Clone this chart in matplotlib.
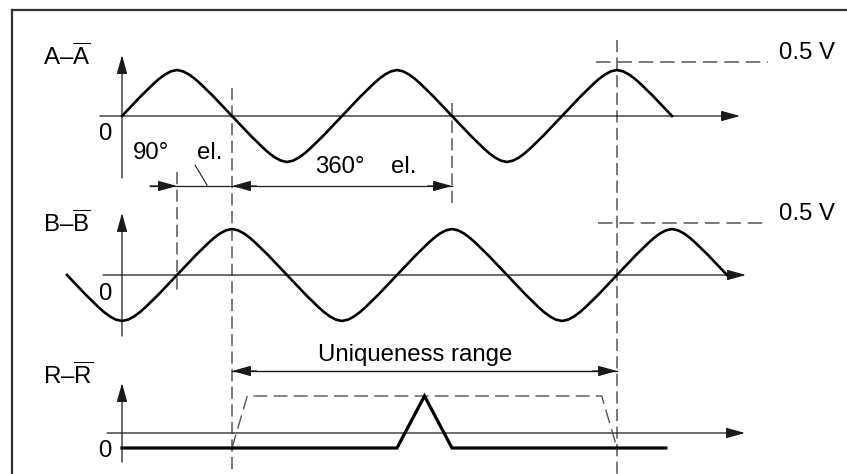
import matplotlib
matplotlib.use('Agg')
import matplotlib.pyplot as plt

plt.rcParams['font.family'] = ['Liberation Sans', 'DejaVu Sans']
plt.rcParams['mathtext.fontset'] = 'custom'
plt.rcParams['mathtext.rm'] = 'Liberation Sans'
plt.rcParams['mathtext.it'] = 'Liberation Sans:italic'

# ---------------- data ----------------
# one electrical period of the incremental signal (normalised), 10° el. steps
cycle_step = 10
cycle_val = [0.0, 0.14, 0.28, 0.42, 0.55, 0.68, 0.80, 0.90, 0.97,
             1.0, 0.97, 0.90, 0.80, 0.68, 0.55, 0.42, 0.28, 0.14,
             0.0, -0.14, -0.28, -0.42, -0.55, -0.68, -0.80, -0.90, -0.97,
             -1.0, -0.97, -0.90, -0.80, -0.68, -0.55, -0.42, -0.28, -0.14]
signal_labels = ['A', 'B', 'R']
signal_phase = [0, 90]                 # ° el. (B shifted by 90° el.)
signal_start = [0, -90]                # ° el.
signal_end = [900, 990]                # ° el.
ref_deg = [0, 450, 495, 540, 890]      # reference mark R-R̄
ref_val = [0, 0, 1, 0, 0]
uniq_deg = [180, 205, 785, 810]        # uniqueness window (dashed)
uniq_val = [0, 1, 1, 0]
period_deg = 360
quarter_deg = 90
uniq_range = (180, 810)
level_text = '0.5 V'

# ---------------- layout ----------------
W, H = 847, 474
PX0, PXPERIOD = 122, 220          # pixel position of 0°, pixels per 360°
def px2deg(p):
    return (p - PX0) * period_deg / PXPERIOD

fig = plt.figure(figsize=(W / 100, H / 100), dpi=100)
ax = fig.add_axes([0, 0, 1, 1])
ax.set_xlim(px2deg(0), px2deg(W))
ax.set_ylim(H, 0)
ax.axis('off')

base_y = [116, 275, 448]
amp = [46, 46, 52]
axis_y = [116, 275, 433]
axis_x0 = [px2deg(100), px2deg(103), px2deg(107)]
axis_x1 = [px2deg(740), px2deg(746), px2deg(745)]
yaxis_bot = [178, 336, 462]
yaxis_top = [55, 213, 383]

FS = 17.3
AX_C = '#1a1a1a'
DASH_C = '#555555'

def arrow(x0, y0, x1, y1, color=AX_C, lw=0.9):
    ax.annotate('', xy=(x1, y1), xytext=(x0, y0),
                arrowprops=dict(arrowstyle='-|>,head_length=1.15,head_width=0.32',
                                lw=lw, color=color, shrinkA=0, shrinkB=0,
                                mutation_scale=10))

# frame (left and top edges)
fx = px2deg(12)
ax.plot([fx, fx], [H + 5, 10], color='#333333', lw=1.6, solid_capstyle='projecting')
ax.plot([fx, px2deg(W + 5)], [10, 10], color='#333333', lw=1.6, solid_capstyle='projecting')

# axes of the three channels
for i in range(3):
    arrow(axis_x0[i], axis_y[i], axis_x1[i], axis_y[i])
    arrow(0, yaxis_bot[i], 0, yaxis_top[i])

# incremental signals A and B
for i in range(2):
    xs, ys = [], []
    for d in range(signal_start[i], signal_end[i] + 1, cycle_step):
        idx = ((d - signal_phase[i]) % period_deg) // cycle_step
        xs.append(d)
        ys.append(base_y[i] - amp[i] * cycle_val[idx])
    ax.plot(xs, ys, color='black', lw=1.9, solid_joinstyle='round', zorder=5)

# reference mark signal
ax.plot(ref_deg, [base_y[2] - amp[2] * v for v in ref_val], color='black', lw=2.3,
        solid_joinstyle='miter', zorder=5)
ax.plot(uniq_deg, [base_y[2] - amp[2] * v for v in uniq_val], color=DASH_C, lw=1.0,
        linestyle=(0, (10, 4.5)), zorder=4)

# vertical dashed reference lines
vdash = dict(color=DASH_C, lw=1.1, linestyle=(0, (8, 3.5)))
ax.plot([quarter_deg, quarter_deg], [172, 293], **vdash)
ax.plot([uniq_range[0], uniq_range[0]], [88, H + 5], **vdash)
ax.plot([uniq_range[0] + period_deg, uniq_range[0] + period_deg], [103, 203], **vdash)
ax.plot([uniq_range[1], uniq_range[1]], [40, H + 5], **vdash)

# 0.5 V level lines
hdash = dict(color=DASH_C, lw=1.1, linestyle=(0, (9.5, 4.5)))
ax.plot([px2deg(596), px2deg(768)], [62, 62], **hdash)
ax.plot([px2deg(598), px2deg(768)], [223, 223], **hdash)

# dimension lines
dim_y = 186
ax.plot([px2deg(150), uniq_range[0] + period_deg], [dim_y, dim_y], color=AX_C, lw=0.9)
arrow(px2deg(150), dim_y, quarter_deg, dim_y)
arrow(uniq_range[0] + 40, dim_y, uniq_range[0], dim_y)
arrow(uniq_range[0] + period_deg - 40, dim_y, uniq_range[0] + period_deg, dim_y)
ax.plot([px2deg(195), px2deg(207)], [165, 185], color=AX_C, lw=0.8)

uy = 371
ax.plot([uniq_range[0], uniq_range[1]], [uy, uy], color=AX_C, lw=1.0)
arrow(uniq_range[0] + 40, uy, uniq_range[0], uy)
arrow(uniq_range[1] - 40, uy, uniq_range[1], uy)

# texts
lab_base = [65, 232, 384]
for i, s in enumerate(signal_labels):
    ax.text(px2deg(43), lab_base[i], s + '–$\\overline{\\mathrm{' + s + '}}$',
            fontsize=FS, ha='left', va='baseline')
zero_base = [140, 300, 457]
for yb in zero_base:
    ax.text(px2deg(111), yb, '0', fontsize=FS, ha='right', va='baseline')
ax.text(px2deg(779), 59, level_text, fontsize=FS, ha='left', va='baseline')
ax.text(px2deg(779), 220, level_text, fontsize=FS, ha='left', va='baseline')
ax.text(px2deg(133), 159, f'{quarter_deg}°', fontsize=FS, ha='left', va='baseline')
ax.text(px2deg(197), 159, 'el.', fontsize=FS, ha='left', va='baseline')
ax.text(px2deg(315), 173, f'{period_deg}°', fontsize=FS, ha='left', va='baseline')
ax.text(px2deg(391), 173, 'el.', fontsize=FS, ha='left', va='baseline')
ax.text(px2deg(318), 361, 'Uniqueness range', fontsize=FS, ha='left', va='baseline')

fig.savefig('out.png', dpi=100, facecolor='white')
